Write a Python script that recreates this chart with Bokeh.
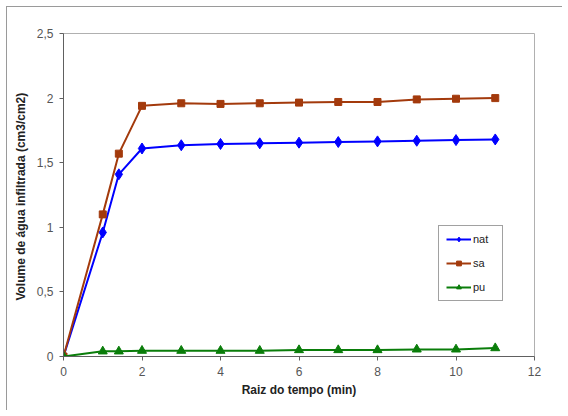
from bokeh.plotting import figure
from bokeh.models import FixedTicker, Legend, LegendItem
from bokeh.embed import file_html
from bokeh.resources import INLINE

x = [0, 1, 1.41, 2, 3, 4, 5, 6, 7, 8, 9, 10, 11]
nat = [0, 0.96, 1.41, 1.61, 1.635, 1.645, 1.65, 1.655, 1.66, 1.665, 1.67, 1.675, 1.68]
sa = [0, 1.10, 1.57, 1.94, 1.96, 1.955, 1.96, 1.965, 1.97, 1.97, 1.99, 1.995, 2.00]
pu = [0, 0.04, 0.04, 0.045, 0.045, 0.045, 0.045, 0.05, 0.05, 0.05, 0.055, 0.055, 0.065]

x_ticks = [0, 2, 4, 6, 8, 10, 12]
y_ticks = [0, 0.5, 1, 1.5, 2, 2.5]
y_tick_labels = ["0", "0,5", "1", "1,5", "2", "2,5"]

FONT = "Liberation Sans"

p = figure(width=556, height=404, output_backend="svg", toolbar_location=None,
           x_range=(0, 12), y_range=(0, 2.5),
           min_border_left=56, min_border_right=29, min_border_top=26, min_border_bottom=55)
p.styles = {"border-left": "1px solid #9a9a9a", "border-top": "1px solid #9a9a9a",
            "border-right": "0px none white", "border-bottom": "0px none white",
            "box-shadow": "none", "outline": "none",
            "margin-left": "6px", "margin-top": "6px"}
p.xgrid.visible = False
p.ygrid.visible = False
p.outline_line_color = "#b0b0b0"
p.outline_line_width = 1

for ax in (p.xaxis, p.yaxis):
    ax.axis_line_color = "#606060"
    ax.major_tick_line_color = "#606060"
    ax.minor_tick_line_color = None
    ax.major_tick_in = 0
    ax.major_tick_out = 4
    ax.major_label_text_font = FONT
    ax.major_label_text_font_size = "12px"
    ax.major_label_text_color = "#555555"
    ax.axis_label_text_font = FONT
    ax.axis_label_text_font_size = "12px"
    ax.axis_label_text_font_style = "bold"
    ax.axis_label_text_color = "#222222"

p.xaxis.ticker = FixedTicker(ticks=x_ticks)
p.yaxis.ticker = FixedTicker(ticks=y_ticks)
p.yaxis.major_label_overrides = {t: l for t, l in zip(y_ticks, y_tick_labels)}
p.xaxis.axis_label = "Raiz do tempo (min)"
p.yaxis.axis_label = "Volume de água infiltrada  (cm3/cm2)"
p.xaxis.axis_label_standoff = 4
p.yaxis.axis_label_standoff = 6
p.xaxis.major_label_standoff = 6
p.yaxis.major_label_standoff = 6

blue = "#0000ff"
brown = "#a33a0c"
green = "#0a7d0a"

l1 = p.line(x, nat, line_color=blue, line_width=2)
m1 = p.scatter(x, nat, marker="diamond", size=11, fill_color=blue, line_color=blue)
l2 = p.line(x, sa, line_color=brown, line_width=2)
m2 = p.scatter(x, sa, marker="square", size=7, fill_color=brown, line_color=brown)
l3 = p.line(x, pu, line_color=green, line_width=2)
m3 = p.scatter(x, pu, marker="triangle", size=9, fill_color=green, line_color=green)

legend = Legend(items=[LegendItem(label="nat", renderers=[l1, m1]),
                       LegendItem(label="sa", renderers=[l2, m2]),
                       LegendItem(label="pu", renderers=[l3, m3])],
                location=(375, 55))
legend.border_line_color = "#444444"
legend.border_line_width = 1
legend.background_fill_alpha = 1
legend.label_text_font = FONT
legend.label_text_font_size = "11px"
legend.label_text_color = "#222222"
legend.glyph_width = 25
legend.glyph_height = 12
legend.label_height = 12
legend.label_standoff = 2
legend.spacing = 12
legend.padding = 7
legend.margin = 0
legend.label_width = 22
p.add_layout(legend, "center")

open("out.html", "w").write(file_html(p, INLINE))
